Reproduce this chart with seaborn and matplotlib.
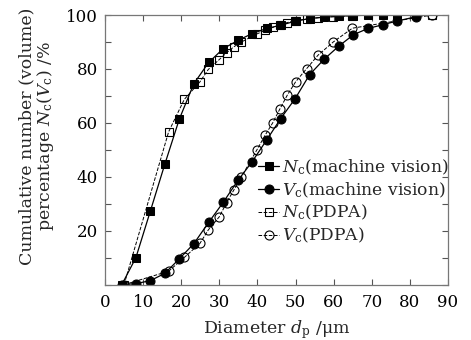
import numpy as np
import matplotlib
matplotlib.use("Agg")
import matplotlib.pyplot as plt
import seaborn as sns

# machine vision bins (um)
mv_d = [4.4, 8.1, 11.9, 15.7, 19.5, 23.3, 27.2, 31.0, 34.9, 38.6, 42.4,
        46.1, 49.9, 53.7, 57.5, 61.3, 65.2, 69.0, 72.9, 76.7, 81.5]
mv_n = [0, 10, 27.3, 44.7, 61.4, 74.5, 82.4, 87.5, 90.6, 93.1, 95.0,
        96.2, 97.7, 98.7, 99.2, 99.5, 99.8, 99.9, 100, 100, 100]
mv_v = [0, 0.4, 1.5, 4.2, 9.6, 15.2, 23.1, 30.5, 38.7, 45.6, 53.6,
        61.6, 69.0, 77.9, 83.6, 88.4, 92.7, 95.0, 96.4, 97.8, 99.3]

# PDPA
pd_d = [5.0, 16.7, 20.8, 24.9, 27.1, 30.0, 31.9, 33.8, 35.8, 39.9, 42.0,
        44.0, 45.9, 47.8, 50.0, 52.9, 55.9, 59.9, 64.9, 85.9]
pd_n = [0, 56.7, 68.7, 75.2, 79.8, 83.5, 86.0, 88.2, 90.0, 93.0, 94.3,
        95.4, 96.3, 97.2, 97.9, 98.5, 99.0, 99.4, 99.8, 100]
pd_v = [0, 5.0, 10.1, 15.3, 20.3, 25.2, 30.4, 35.1, 40.0, 50.1, 55.4,
        60.0, 65.2, 70.2, 75.2, 80.1, 85.1, 90.0, 95.1, 100]

sns.set_theme(style="ticks")
plt.rcParams["font.family"] = ["DejaVu Serif"]
plt.rcParams["mathtext.fontset"] = "dejavuserif"

fig = plt.figure(figsize=(4.71, 3.40), dpi=100)
ax = fig.add_axes([105 / 471, 1 - 284.7 / 340, 343 / 471, 269.7 / 340])

sns.lineplot(x=mv_d, y=mv_n, ax=ax, color="black", lw=0.9, marker="s", markersize=6,
             markerfacecolor="black", markeredgecolor="black", label=r"$N_\mathrm{c}$(machine vision)")
sns.lineplot(x=mv_d, y=mv_v, ax=ax, color="black", lw=0.9, marker="o", markersize=6.5,
             markerfacecolor="black", markeredgecolor="black", label=r"$V_\mathrm{c}$(machine vision)")
sns.lineplot(x=pd_d, y=pd_n, ax=ax, color="black", lw=0.7, ls="--", marker="s", markersize=6,
             markerfacecolor="none", markeredgecolor="black", markeredgewidth=0.8,
             label=r"$N_\mathrm{c}$(PDPA)")
sns.lineplot(x=pd_d, y=pd_v, ax=ax, color="black", lw=0.7, ls="--", marker="o", markersize=6.5,
             markerfacecolor="none", markeredgecolor="black", markeredgewidth=0.8,
             label=r"$V_\mathrm{c}$(PDPA)")

ax.set_xlim(0, 90)
ax.set_ylim(0, 100)
ax.set_xticks(np.arange(0, 91, 10))
ax.set_yticks([20, 40, 60, 80, 100])
ax.set_yticks(np.arange(0, 101, 10), minor=True)
ax.tick_params(which="both", direction="in", top=True, right=True, labelsize=12,
               length=4, width=0.8, colors="#555555", labelcolor="black")
ax.tick_params(axis="x", pad=7)
ax.tick_params(axis="y", pad=5)
for s in ax.spines.values():
    s.set_color("#777777")
    s.set_linewidth(0.9)

ax.set_xlabel(r"Diameter $d_\mathrm{p}$ /$\mathrm{\mu}$m", fontsize=12.5, labelpad=4.5)
ax.set_ylabel("Cumulative number (volume)\n" + r"percentage $N_\mathrm{c}$($V_\mathrm{c}$) /%",
              fontsize=12.5, linespacing=1.0)
ax.yaxis.set_label_coords(-0.143, 0.55)

ax.legend(loc="center left", bbox_to_anchor=(0.446, 0.309), frameon=False, fontsize=12.3,
          handlelength=1.25, handletextpad=0.15, labelspacing=0.2, borderpad=0, borderaxespad=0)

fig.savefig("out.png", dpi=100)
